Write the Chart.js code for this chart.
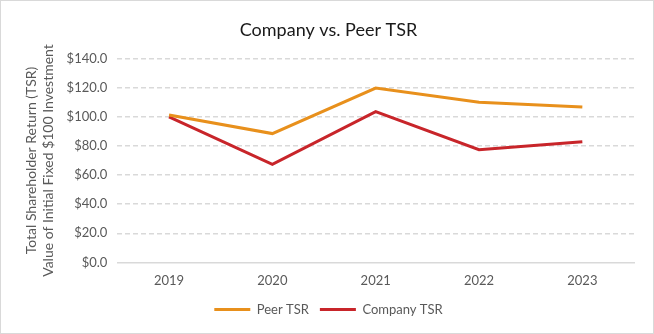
<!DOCTYPE html>
<html>
<head>
<meta charset="utf-8">
<script src="https://cdn.jsdelivr.net/npm/chart.js@4"></script>
<style>
  html, body { margin: 0; padding: 0; background: #fff; }
  #wrap {
    position: relative;
    width: 652px;
    height: 332px;
    border: 1px solid #d9d9d9;
  }
</style>
</head>
<body>
<div id="wrap"><canvas id="tsrChart"></canvas></div>
<script>
const years = ['2019', '2020', '2021', '2022', '2023'];
const peerTSR = [101.2, 88.5, 119.8, 110.0, 106.7];
const companyTSR = [100.0, 67.3, 103.6, 77.4, 82.8];
const axisTitle = ['Total Shareholder Return (TSR)', 'Value of Initial Fixed $100 Investment'];

const fontName = 'Lato, "Open Sans", sans-serif';
const grey = '#595959';

new Chart(document.getElementById('tsrChart'), {
  type: 'line',
  data: {
    labels: years,
    datasets: [
      {
        label: 'Peer TSR',
        data: peerTSR,
        borderColor: '#e8901c',
        backgroundColor: '#e8901c',
        borderWidth: 3,
        pointRadius: 0,
        tension: 0
      },
      {
        label: 'Company TSR',
        data: companyTSR,
        borderColor: '#c8252a',
        backgroundColor: '#c8252a',
        borderWidth: 3,
        pointRadius: 0,
        tension: 0
      }
    ]
  },
  options: {
    responsive: true,
    maintainAspectRatio: false,
    animation: false,
    layout: { padding: { top: 14, right: 19, bottom: 7, left: 22 } },
    plugins: {
      title: {
        display: true,
        text: 'Company vs. Peer TSR',
        color: '#1a1a1a',
        font: { family: fontName, size: 18, weight: 'normal' },
        padding: { top: 4, bottom: 18 }
      },
      legend: {
        position: 'bottom',
        labels: {
          usePointStyle: true,
          pointStyle: 'line',
          pointStyleWidth: 36,
          color: grey,
          font: { family: fontName, size: 13 },
          padding: 11
        }
      },
      tooltip: { enabled: false }
    },
    scales: {
      x: {
        offset: true,
        grid: { display: false },
        border: { display: true, color: '#d9d9d9', width: 1.5 },
        ticks: { color: grey, font: { family: fontName, size: 13 }, padding: 3 }
      },
      y: {
        min: 0,
        max: 140,
        ticks: {
          stepSize: 20,
          color: grey,
          font: { family: fontName, size: 13 },
          padding: 10,
          callback: v => '$' + v.toFixed(1)
        },
        grid: {
          color: ctx => ctx.tick && ctx.tick.value === 0 ? 'rgba(0,0,0,0)' : '#d9d9d9',
          lineWidth: 1.5,
          drawTicks: false
        },
        border: { display: false, dash: [5, 3] },
        title: {
          display: true,
          text: axisTitle,
          color: grey,
          font: { family: fontName, size: 14 },
          padding: { top: 0, bottom: 0 }
        }
      }
    }
  }
});
</script>
</body>
</html>
